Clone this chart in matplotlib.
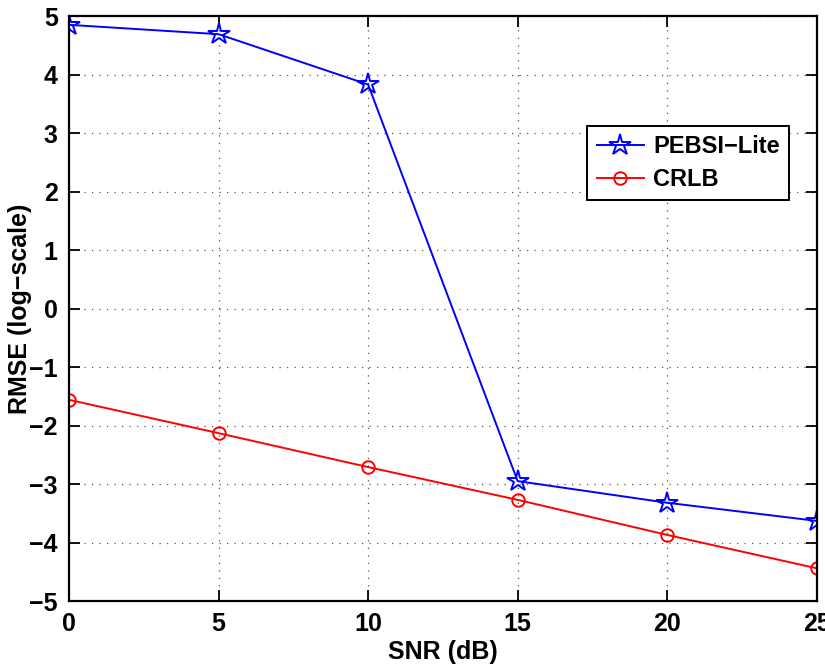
import matplotlib
matplotlib.use("Agg")
import matplotlib.pyplot as plt

snr = [0, 5, 10, 15, 20, 25]
pebsi_lite = [4.85, 4.69, 3.83, -2.95, -3.32, -3.63]
crlb = [-1.56, -2.13, -2.71, -3.27, -3.87, -4.44]

plt.rcParams['font.family'] = ['Liberation Sans', 'DejaVu Sans']
plt.rcParams['font.weight'] = 'bold'

fig = plt.figure(figsize=(8.25, 6.69), dpi=100)
ax = fig.add_axes([0.0836, 0.1016, 0.9064, 0.8744])

ax.plot(snr, pebsi_lite, color='b', marker='*', markersize=16, markerfacecolor='none',
        markeredgecolor='b', markeredgewidth=1.4, linewidth=1.4, label='PEBSI\u2212Lite')
ax.plot(snr, crlb, color='r', marker='o', markersize=9, markerfacecolor='none',
        markeredgecolor='r', markeredgewidth=1.4, linewidth=1.4, label='CRLB')

ax.set_xlim(0, 25)
ax.set_ylim(-5, 5)
ax.set_xticks(snr)
ax.set_yticks(range(-5, 6))
ax.grid(True, linestyle=(0, (1, 5)), color='#555555', linewidth=0.9)
ax.tick_params(direction='in', length=8, width=1.3, top=True, right=True, labelsize=18, pad=8)
for s in ax.spines.values():
    s.set_linewidth(1.6)

ax.set_xlabel('SNR (dB)', fontsize=18, fontweight='bold', labelpad=3)
ax.set_ylabel('RMSE (log\u2212scale)', fontsize=18, fontweight='bold')
ax.yaxis.set_label_coords(-0.05, 0.5)

leg = ax.legend(loc='upper left', bbox_to_anchor=(0.693, 0.812), fontsize=17, fancybox=False,
                edgecolor='k', framealpha=1, handlelength=2.0, handletextpad=0.4,
                borderpad=0.4, labelspacing=0.4, borderaxespad=0)
leg.get_frame().set_linewidth(1.4)

fig.savefig('out.png', dpi=100)
